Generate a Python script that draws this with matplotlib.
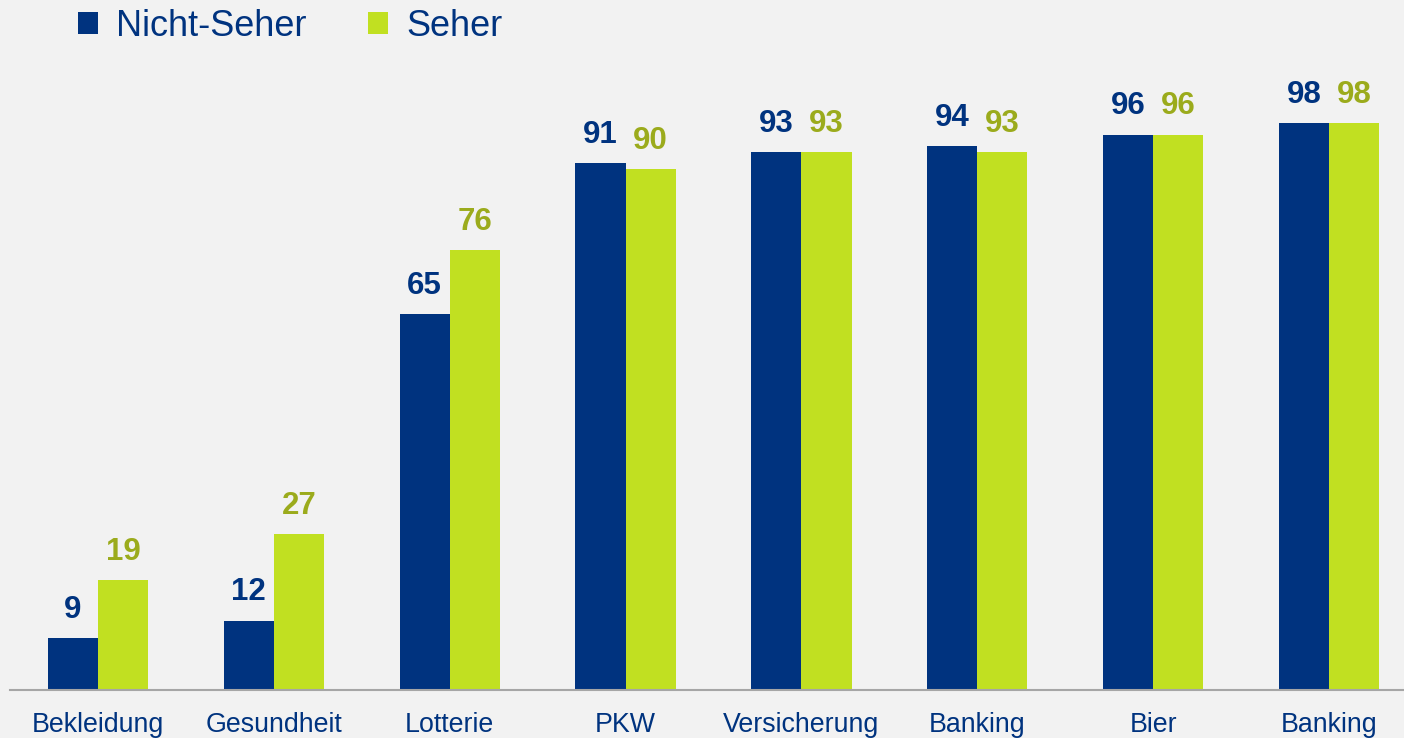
import matplotlib
matplotlib.use("Agg")
import matplotlib.pyplot as plt
import numpy as np

categories = ["Bekleidung", "Gesundheit", "Lotterie", "PKW", "Versicherung", "Banking", "Bier", "Banking"]
nicht_seher = [9, 12, 65, 91, 93, 94, 96, 98]
seher = [19, 27, 76, 90, 93, 93, 96, 98]
series_names = ["Nicht-Seher", "Seher"]

BLUE = "#00337f"
GREEN = "#c1e021"
OLIVE = "#9bab1c"
BG = "#f2f2f2"

plt.rcParams['font.family'] = ['Liberation Sans', 'DejaVu Sans']

fig = plt.figure(figsize=(14.04, 7.38), dpi=100, facecolor=BG)
ax = fig.add_axes([0, 48/738, 1, 690/738])
ax.set_facecolor(BG)

x = np.arange(len(categories))
w = 0.285
b1 = ax.bar(x - w/2, nicht_seher, w, color=BLUE, label=series_names[0])
b2 = ax.bar(x + w/2, seher, w, color=GREEN, label=series_names[1])

for rect, v in zip(b1, nicht_seher):
    ax.annotate(str(v), (rect.get_x() + rect.get_width()/2, v), xytext=(0, 9.5),
                textcoords="offset points", ha="center", va="bottom",
                fontsize=22.5, fontweight="bold", color=BLUE)
for rect, v in zip(b2, seher):
    ax.annotate(str(v), (rect.get_x() + rect.get_width()/2, v), xytext=(0, 9.5),
                textcoords="offset points", ha="center", va="bottom",
                fontsize=22.5, fontweight="bold", color=OLIVE)

ax.set_xlim(-0.557, 7.426)
ax.set_ylim(0, 119.25)
ax.set_xticks(x)
ax.set_xticklabels(categories, fontsize=19.3, color=BLUE)
ax.tick_params(axis="x", length=0, pad=15.5)
ax.set_yticks([])
for s in ["top", "right", "left"]:
    ax.spines[s].set_visible(False)
ax.spines["bottom"].set_color("#a6a6a6")
ax.spines["bottom"].set_linewidth(1.5)
ax.spines["bottom"].set_bounds(-0.5, 7.426)

leg = ax.legend(loc="upper left", bbox_to_anchor=(0.0558, 0.987), ncol=2,
                frameon=False, fontsize=26, labelcolor=BLUE,
                handlelength=0.55, handleheight=0.55, handletextpad=0.5,
                columnspacing=1.7, borderaxespad=0.0, borderpad=0.0)

fig.savefig("out.png", dpi=100, facecolor=BG)
